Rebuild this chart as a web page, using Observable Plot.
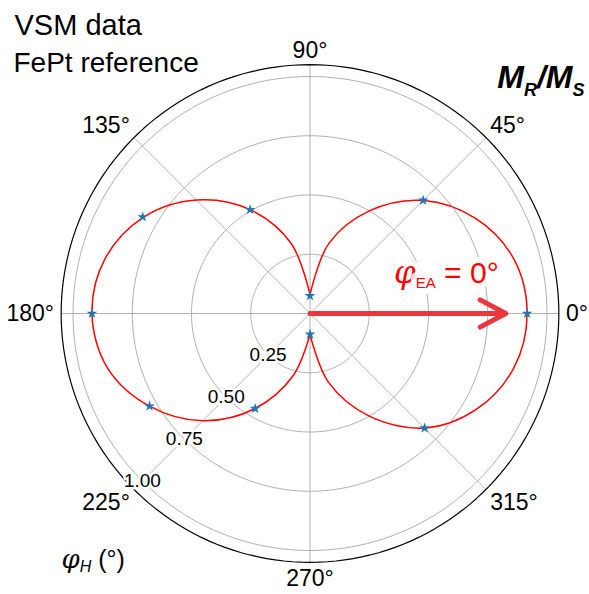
<!DOCTYPE html>
<html>
<head>
<meta charset="utf-8">
<script src="https://cdn.jsdelivr.net/npm/d3@7"></script>
<script src="https://cdn.jsdelivr.net/npm/@observablehq/plot@0.6"></script>
<style>
  html, body { margin: 0; padding: 0; background: #fff; }
  svg { display: block; }
</style>
</head>
<body>
<div id="chart"></div>
<script>
// ---------------- data ----------------
const pointAngles = [0, 45, 90, 120, 150, 180, 210, 240, 270, 315];
const pointValues = [0.916, 0.675, 0.075, 0.506, 0.815, 0.92, 0.782, 0.463, 0.088, 0.684];

const rightLobeAngles = [-90, -75, -60, -45, -30, -15, 0, 15, 30, 45, 60, 75, 90];
const rightLobeValues = [0.088, 0.30, 0.50, 0.684, 0.81, 0.89, 0.916, 0.89, 0.805, 0.675, 0.50, 0.305, 0.08];

const leftLobeAngles = [90, 105, 120, 135, 150, 165, 180, 195, 210, 225, 240, 255, 270];
const leftLobeValues = [0.08, 0.306, 0.506, 0.677, 0.812, 0.895, 0.92, 0.885, 0.782, 0.64, 0.463, 0.27, 0.088];

const radialTicks = [0.25, 0.5, 0.75, 1.0];
const radialTickLabels = ["0.25", "0.50", "0.75", "1.00"];
const angleTicks = [0, 45, 90, 135, 180, 225, 270, 315];
const angleTickLabels = ["0°", "45°", "90°", "135°", "180°", "225°", "270°", "315°"];
const rMax = 1.05;

const easyAxisAngle = 0;
const easyAxisValue = 0.826;

// ---------------- layout ----------------
const W = 589, H = 594;
const cx = 309.5, cy = 313, unit = 237;
const rad = (a) => a * Math.PI / 180;
const px = (a, r) => r * Math.cos(rad(a));
const py = (a, r) => r * Math.sin(rad(a));

const circleSteps = d3.range(0, 361, 2);
const ringPts = radialTicks.flatMap((r) => circleSteps.map((a) => ({a, r})));
const outerPts = circleSteps.map((a) => ({a, r: rMax}));

const points = pointAngles.map((a, i) => ({a, r: pointValues[i]}));
const rightLobe = rightLobeAngles.map((a, i) => ({a, r: rightLobeValues[i]}));
const leftLobe = leftLobeAngles.map((a, i) => ({a, r: leftLobeValues[i]}));

const X = (d) => px(d.a, d.r), Y = (d) => py(d.a, d.r);

function angleLabel(a, i) {
  const c = Math.cos(rad(a)), s = Math.sin(rad(a));
  const textAnchor = c > 0.1 ? "start" : c < -0.1 ? "end" : "middle";
  const lineAnchor = s > 0.1 ? "bottom" : s < -0.1 ? "top" : "middle";
  const r = (Math.abs(c) > 0.1 && Math.abs(s) > 0.1) ? 1.075 : 1.08;
  return Plot.text([a], {
    x: (d) => px(d, r), y: (d) => py(d, r),
    text: () => angleTickLabels[i],
    textAnchor, lineAnchor, fontSize: 23, fill: "black"
  });
}

const chart = Plot.plot({
  width: W, height: H,
  marginTop: 0, marginRight: 0, marginBottom: 0, marginLeft: 0,
  x: {domain: [-cx / unit, (W - cx) / unit], axis: null},
  y: {domain: [-(H - cy) / unit, cy / unit], axis: null},
  style: {fontFamily: "'Liberation Sans', Arial, sans-serif", background: "white", overflow: "visible"},
  marks: [
    // grid rings
    Plot.line(ringPts, {x: X, y: Y, z: "r", stroke: "#b0b0b0", strokeWidth: 1}),
    // spokes
    Plot.link(angleTicks, {
      x1: () => 0, y1: () => 0,
      x2: (a) => px(a, rMax), y2: (a) => py(a, rMax),
      stroke: "#b0b0b0", strokeWidth: 1
    }),
    // outer boundary
    Plot.line(outerPts, {x: X, y: Y, stroke: "black", strokeWidth: 1.2}),
    // radial tick labels
    Plot.text(radialTicks, {
      x: (r) => px(225, r), y: (r) => py(225, r),
      text: (r, i) => radialTickLabels[i],
      fontSize: 19, fill: "black", stroke: "white", strokeWidth: 5
    }),
    // angle labels
    ...angleTicks.map((a, i) => angleLabel(a, i)),
    // fitted curve (two lobes)
    Plot.line(rightLobe, {x: X, y: Y, stroke: "#ff0000", strokeWidth: 1.5, curve: "catmull-rom"}),
    Plot.line(leftLobe, {x: X, y: Y, stroke: "#ff0000", strokeWidth: 1.5, curve: "catmull-rom"}),
    // easy axis arrow
    Plot.arrow([{a: easyAxisAngle, r: easyAxisValue}], {
      x1: () => 0, y1: () => 0, x2: X, y2: Y,
      stroke: "#e8383d", strokeWidth: 5, headLength: 8.7, headAngle: 56
    }),
    // data points
    Plot.dot(points, {x: X, y: Y, symbol: "star", fill: "#1f77b4", r: 3.4}),
    // easy axis label
    Plot.text([{a: easyAxisAngle, r: easyAxisValue}], {
      x: (d) => px(d.a, d.r) - 0.03, y: () => 0.127,
      text: () => "φEA = 0°",
      textAnchor: "end", lineAnchor: "bottom",
      fill: "#ff0000", fontSize: 30,
      stroke: "white", strokeWidth: 12, strokeOpacity: 0.85
    }),
    // titles
    Plot.text(["VSM data"], {frameAnchor: "top-left", dx: 14, dy: 34, lineAnchor: "bottom", textAnchor: "start", fontSize: 29, fill: "black"}),
    Plot.text(["FePt reference"], {frameAnchor: "top-left", dx: 13, dy: 71, lineAnchor: "bottom", textAnchor: "start", fontSize: 28, fill: "black"}),
    Plot.text(["MR/MS"], {frameAnchor: "top-right", dx: -5, dy: 87, lineAnchor: "bottom", textAnchor: "end", fontSize: 32, fontWeight: "bold", fontStyle: "italic", fill: "black"}),
    Plot.text(["φH (°)"], {frameAnchor: "top-left", dx: 61, dy: 567, lineAnchor: "bottom", textAnchor: "start", fontSize: 25, fill: "black"})
  ]
});

// rich text (subscripts / italic phi)
const phiFont = "'DejaVu Serif', 'Liberation Serif', serif";
const richMap = [
  ["φEA = 0°", `<tspan font-family="${phiFont}" font-style="italic" font-size="31">φ</tspan><tspan font-size="15" dy="5">EA</tspan><tspan dy="-5"> = 0°</tspan>`],
  ["MR/MS", `<tspan>M</tspan><tspan font-size="18" dy="8">R</tspan><tspan dy="-8">/M</tspan><tspan font-size="18" dy="8">S</tspan>`],
  ["φH (°)", `<tspan font-family="${phiFont}" font-style="italic" font-size="26">φ</tspan><tspan font-style="italic" font-size="16" dy="4">H</tspan><tspan dy="-4"> (°)</tspan>`]
];
chart.querySelectorAll("text").forEach((t) => {
  const m = richMap.find(([txt]) => t.textContent === txt);
  if (m) t.innerHTML = m[1];
});

document.getElementById("chart").appendChild(chart);
</script>
</body>
</html>
